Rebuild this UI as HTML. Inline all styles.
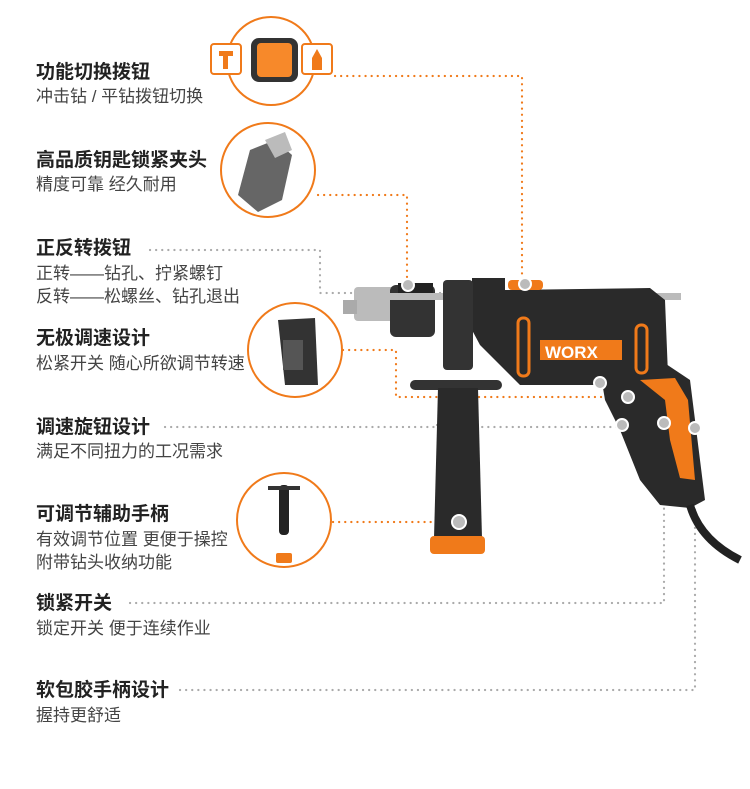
<!DOCTYPE html>
<html><head><meta charset="utf-8"><style>
body{margin:0;width:750px;height:789px;background:#fff;position:relative;overflow:hidden;font-family:"Liberation Sans","Noto Sans CJK SC",sans-serif}
.t{position:absolute;left:36px;font-size:19px;font-weight:bold;color:#222;line-height:22px}
.s{position:absolute;left:36px;font-size:17px;color:#444;line-height:23px}
svg{position:absolute;left:0;top:0}
</style></head><body>
<svg width="750" height="789">
<g fill="none" stroke-width="2.2" stroke-linecap="round" stroke-dasharray="0.1 6">
<g stroke="#f07a1a">
<polyline points="335,76 522,76 522,282"/>
<polyline points="318,195 407,195 407,283"/>
<polyline points="343,350 396,350 396,397 628,397"/>
<polyline points="333,522 455,522"/>
</g>
<g stroke="#aaa">
<polyline points="150,250 320,250 320,293 360,293"/>
<polyline points="165,427 620,427"/>
<polyline points="130,603 664,603 664,425"/>
<polyline points="180,690 695,690 695,428"/>
<polyline points="598,298 598,383"/>
<polyline points="440,293 470,293"/>
<polyline points="437,425 475,425"/>
</g>
</g>
<g fill="none" stroke="#f07a1a" stroke-width="2">
<circle cx="271" cy="61" r="44"/><circle cx="268" cy="170" r="47"/>
<circle cx="295" cy="350" r="47"/><circle cx="284" cy="520" r="47"/>
</g>
<rect x="211" y="44" width="30" height="30" rx="3" fill="#fff" stroke="#f07a1a" stroke-width="2"/>
<rect x="219" y="51" width="14" height="5" fill="#f07a1a"/><rect x="223" y="51" width="5" height="18" fill="#f07a1a"/>
<rect x="251" y="38" width="47" height="44" rx="8" fill="#333"/>
<rect x="257" y="43" width="35" height="34" rx="4" fill="#f7892a"/>
<rect x="302" y="44" width="30" height="30" rx="3" fill="#fff" stroke="#f07a1a" stroke-width="2"/>
<path d="M317,49 L322,58 L322,70 L312,70 L312,58Z" fill="#f07a1a"/>
<path d="M238,195 L250,150 L275,140 L292,155 L282,200 L258,212Z" fill="#666"/>
<path d="M265,140 L285,132 L292,150 L275,158Z" fill="#bbb"/>
<path d="M278,320 L315,318 L318,385 L285,385 Z" fill="#333"/>
<rect x="283" y="340" width="20" height="30" fill="#555"/>
<rect x="279" y="485" width="10" height="50" rx="4" fill="#222"/>
<rect x="268" y="486" width="32" height="4" fill="#333"/>
<rect x="276" y="553" width="16" height="10" rx="2" fill="#f07a1a"/>
<rect x="354" y="287" width="50" height="34" rx="4" fill="#bbb"/>
<rect x="343" y="300" width="14" height="14" fill="#aaa"/>
<rect x="390" y="285" width="45" height="52" rx="6" fill="#333"/>
<rect x="398" y="283" width="35" height="10" fill="#222"/>
<rect x="361" y="293" width="320" height="7" fill="#bbb"/>
<path d="M472,278 L505,278 L505,290 L650,288 L665,300 L668,375 L640,385 L520,385 L480,345 L472,330Z" fill="#2a2a2a"/>
<path d="M600,370 L660,360 L690,380 L705,500 L690,508 L660,505 L640,480 L620,430 L605,400Z" fill="#2a2a2a"/>
<path d="M640,380 L675,378 L688,400 L695,480 L680,478 L670,440 L665,400Z" fill="#f07a1a"/>
<rect x="518" y="318" width="11" height="58" rx="5" fill="none" stroke="#f07a1a" stroke-width="3"/>
<rect x="636" y="325" width="11" height="48" rx="5" fill="none" stroke="#f07a1a" stroke-width="3"/>
<rect x="540" y="340" width="82" height="20" fill="#f07a1a"/>
<text x="545" y="358" font-size="17" font-weight="bold" fill="#fff" font-family="Liberation Sans">WORX</text>
<rect x="508" y="280" width="35" height="10" rx="4" fill="#f07a1a"/>
<rect x="443" y="280" width="30" height="90" rx="4" fill="#333"/>
<rect x="410" y="380" width="92" height="10" rx="5" fill="#333"/>
<path d="M438,388 L478,388 L482,538 L434,538Z" fill="#2a2a2a"/>
<rect x="430" y="536" width="55" height="18" rx="4" fill="#f07a1a"/>
<path d="M690,505 Q700,540 740,560" stroke="#222" stroke-width="8" fill="none"/>
<g fill="#bbb" stroke="#fff" stroke-width="2">
<circle cx="408" cy="285" r="6"/><circle cx="525" cy="284" r="6"/><circle cx="600" cy="383" r="6"/>
<circle cx="628" cy="397" r="6"/><circle cx="622" cy="425" r="6"/><circle cx="664" cy="423" r="6"/>
<circle cx="695" cy="428" r="6"/><circle cx="459" cy="522" r="7"/>
</g>
</svg>
<div class="t" style="top:62px">功能切换拨钮</div><div class="s" style="top:85px">冲击钻 / 平钻拨钮切换</div>
<div class="t" style="top:150px">高品质钥匙锁紧夹头</div><div class="s" style="top:173px">精度可靠 经久耐用</div>
<div class="t" style="top:238px">正反转拨钮</div><div class="s" style="top:262px">正转——钻孔、拧紧螺钉<br>反转——松螺丝、钻孔退出</div>
<div class="t" style="top:328px">无极调速设计</div><div class="s" style="top:352px">松紧开关 随心所欲调节转速</div>
<div class="t" style="top:417px">调速旋钮设计</div><div class="s" style="top:440px">满足不同扭力的工况需求</div>
<div class="t" style="top:504px">可调节辅助手柄</div><div class="s" style="top:528px">有效调节位置 更便于操控<br>附带钻头收纳功能</div>
<div class="t" style="top:593px">锁紧开关</div><div class="s" style="top:617px">锁定开关 便于连续作业</div>
<div class="t" style="top:680px">软包胶手柄设计</div><div class="s" style="top:704px">握持更舒适</div>
</body></html>
